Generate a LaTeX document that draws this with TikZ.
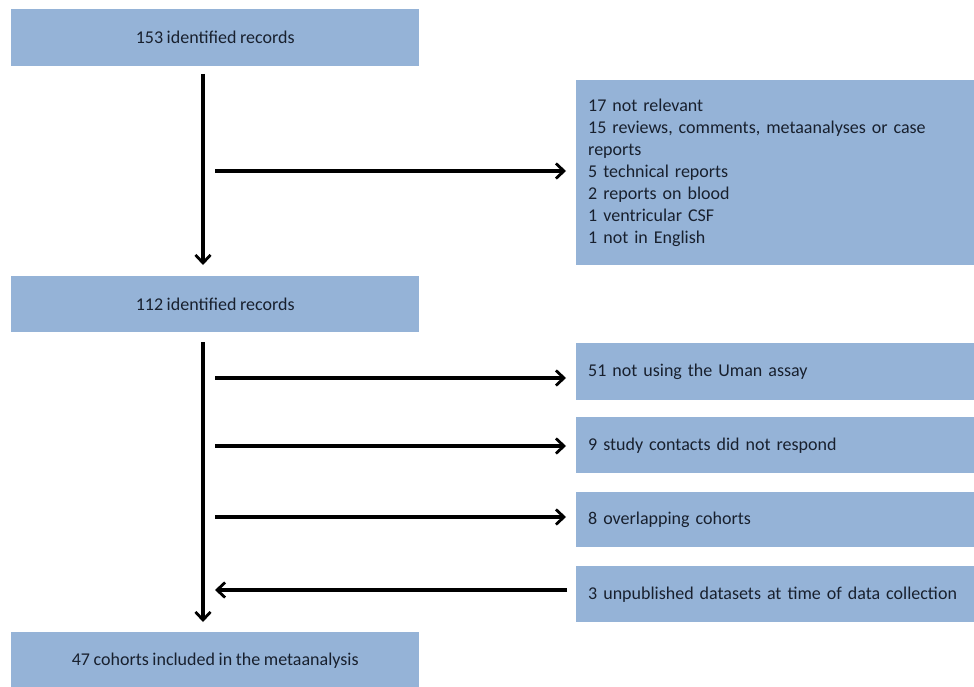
\documentclass[tikz,border=0pt]{standalone}
\usepackage{fontspec}
\setmainfont{Carlito}
\usetikzlibrary{arrows.meta}
\definecolor{boxblue}{HTML}{95B3D7}
\definecolor{boxtext}{HTML}{18202E}
\newcommand\boxfontsetup{\fontsize{18}{22}\selectfont\spaceskip 0.2em plus 0.1em minus 0.05em\relax}
\begin{document}
\begin{tikzpicture}[x=1pt,y=-1pt,
  box/.style={fill=boxblue,draw=none,inner sep=0pt,text=boxtext,font=\boxfontsetup},
  sidebox/.style={box,minimum width=398pt,anchor=north west,align=left,text width=374pt,inner xsep=12pt},
  mainbox/.style={box,minimum width=408pt,anchor=north west},
  flow/.style={line width=3.4pt,-{Straight Barb[length=8pt,width=15pt,line width=2.8pt]}}]
\useasboundingbox (0,0) rectangle (974,687);
% main boxes
\node[mainbox,minimum height=57pt] (b1) at (11,9) {153 identified records};
\node[mainbox,minimum height=56pt] (b2) at (11,276) {112 identified records};
\node[mainbox,minimum height=56pt] (b3) at (11,632) {47 cohorts included in the metaanalysis};
% side boxes
\node[sidebox,minimum height=185pt] (sa) at (576,80)
  {17 not relevant\\15 reviews, comments, metaanalyses or case\\reports\\5 technical reports\\2 reports on blood\\1 ventricular CSF\\1 not in English};
\node[sidebox,minimum height=57pt] (s1) at (576,343) {51 not using the Uman assay};
\node[sidebox,minimum height=56pt] (s2) at (576,417) {9 study contacts did not respond};
\node[sidebox,minimum height=55pt] (s3) at (576,492) {8 overlapping cohorts};
\node[sidebox,minimum height=56pt] (s4) at (576,566) {3 unpublished datasets at time of data collection};
% spine coordinates
\coordinate (v1s) at (203,74);
\coordinate (v1e) at (203,265);
\coordinate (v2s) at (203,342);
\coordinate (v2e) at (203,622);
\coordinate (ha) at (215,171);
\coordinate (h1) at (215,378);
\coordinate (h2) at (215,446);
\coordinate (h3) at (215,517);
\coordinate (h4) at (215,590);
\coordinate (ta) at (566,171);
\coordinate (t1) at (566,378);
\coordinate (t2) at (566,446);
\coordinate (t3) at (566,517);
\coordinate (t4) at (567,590);
% connectors
\draw[flow] (v1s) -- (v1e);
\draw[flow] (v2s) -- (v2e);
\draw[flow] (ha) -- (ta);
\draw[flow] (h1) -- (t1);
\draw[flow] (h2) -- (t2);
\draw[flow] (h3) -- (t3);
\draw[flow] (t4) -- (h4);
\end{tikzpicture}
\end{document}
